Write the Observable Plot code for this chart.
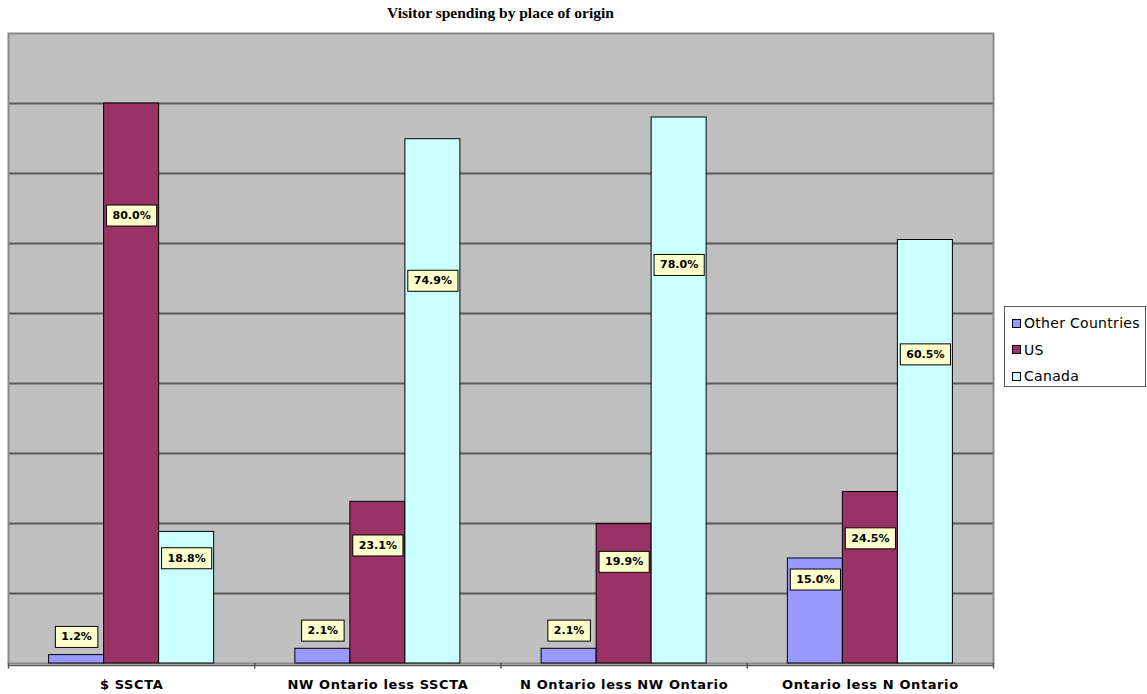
<!DOCTYPE html>
<html>
<head>
<meta charset="utf-8">
<script src="https://cdn.jsdelivr.net/npm/d3@7"></script>
<script src="https://cdn.jsdelivr.net/npm/@observablehq/plot@0.6"></script>
<style>
  html, body { margin: 0; padding: 0; background: #fff; }
  #wrap { position: relative; width: 1147px; height: 694px; overflow: hidden; }
  #title { position: absolute; left: 8px; width: 985px; top: 4px; text-align: center;
    font: bold 15.5px "Liberation Serif", "Times New Roman", serif; color: #000; }
  #chart { position: absolute; left: 0; top: 26px; }
  #legend { position: absolute; left: 1004px; top: 306px; width: 142px; height: 81px;
    border: 1px solid #555; box-sizing: border-box; background: #fff;
    font: 14px "DejaVu Sans", sans-serif; letter-spacing: 0.3px; color: #000; padding: 3px 0 0 7px; }
  #legend .item { display: flex; align-items: center; height: 26.5px; white-space: nowrap; }
  #legend .sw { width: 7px; height: 7px; border: 1px solid #000; margin-right: 3px; }
</style>
</head>
<body>
<div id="wrap">
  <div id="title">Visitor spending by place of origin</div>
  <div id="chart"></div>
  <div id="legend"></div>
</div>
<script>
// ---- data ----
const regions = ["$ SSCTA", "NW Ontario less SSCTA", "N Ontario less NW Ontario", "Ontario less N Ontario"];
const series = ["Other Countries", "US", "Canada"];
const otherCountries = [1.2, 2.1, 2.1, 15.0];
const us = [80.0, 23.1, 19.9, 24.5];
const canada = [18.8, 74.9, 78.0, 60.5];
const yTicks = [0, 10, 20, 30, 40, 50, 60, 70, 80, 90];

const colors = ["#9999ff", "#993366", "#ccffff"];
const valuesBySeries = [otherCountries, us, canada];

// table built from arrays
const barW = 0.2234;                  // bar width as fraction of a group
const pad = (1 - 3 * barW) / 2;
const rows = [];
regions.forEach((r, i) => {
  series.forEach((s, j) => {
    const v = valuesBySeries[j][i];
    rows.push({
      region: r, series: s, value: v,
      x1: i + pad + j * barW, x2: i + pad + (j + 1) * barW,
      xm: i + pad + (j + 0.5) * barW,
      ly: v >= 10 ? v * (v > 79 || v < 19 ? 0.8 : 0.73) : v + 2.6
    });
  });
});

const plot = Plot.plot({
  width: 1000,
  height: 668,
  marginTop: 7,
  marginBottom: 31,
  marginLeft: 8,
  marginRight: 7,
  x: { type: "linear", domain: [0, regions.length], axis: null },
  y: { type: "linear", domain: [0, 90], axis: null },
  color: { domain: series, range: colors },
  marks: [
    Plot.frame({ fill: "#c0c0c0", stroke: "none" }),
    Plot.ruleY(yTicks.slice(1, -1), { stroke: "#5a5a5a", strokeWidth: 2 }),
    Plot.frame({ stroke: "#8a8a8a", strokeWidth: 2, fill: "none" }),
    Plot.rectY(rows, { x1: "x1", x2: "x2", y1: 0, y2: "value", fill: "series", stroke: "#000", strokeWidth: 1 }),
    Plot.ruleY([0], { stroke: "#555", strokeWidth: 1.5, dy: 2 }),
    Plot.ruleX(d3.range(regions.length + 1), { x: d => d, y1: 0, y2: -0.8, stroke: "#555", strokeWidth: 1.5 }),
    Plot.text(regions, {
      x: (d, i) => i + 0.5, y: 0, dy: 21, text: d => d,
      fontSize: 13, fontWeight: "bold", fontFamily: "DejaVu Sans, sans-serif", fill: "#000",
      letterSpacing: 0.6, className: "xlabel"
    }),
    Plot.text(rows, {
      x: "xm", y: "ly", text: d => d.value.toFixed(1) + "%",
      fontSize: 11, fontWeight: "bold", fontFamily: "DejaVu Sans, sans-serif", fill: "#000",
      className: "vlabel"
    })
  ]
});
document.getElementById("chart").appendChild(plot);
plot.querySelectorAll(".xlabel text").forEach(t => t.style.letterSpacing = "0.6px");

// background boxes behind value labels
plot.querySelectorAll(".vlabel text").forEach(t => {
  const b = t.getBBox();
  const r = document.createElementNS("http://www.w3.org/2000/svg", "rect");
  r.setAttribute("x", b.x - 6);
  r.setAttribute("y", b.y - 4);
  r.setAttribute("width", b.width + 12);
  r.setAttribute("height", b.height + 8);
  r.setAttribute("fill", "#ffffcc");
  r.setAttribute("stroke", "#000");
  r.setAttribute("stroke-width", "1");
  const tr = t.getAttribute("transform");
  if (tr) r.setAttribute("transform", tr);
  t.parentNode.insertBefore(r, t);
});

// legend
const lg = document.getElementById("legend");
series.forEach((s, j) => {
  const it = document.createElement("div");
  it.className = "item";
  it.innerHTML = `<span class="sw" style="background:${colors[j]}"></span><span>${s}</span>`;
  lg.appendChild(it);
});
</script>
</body>
</html>
